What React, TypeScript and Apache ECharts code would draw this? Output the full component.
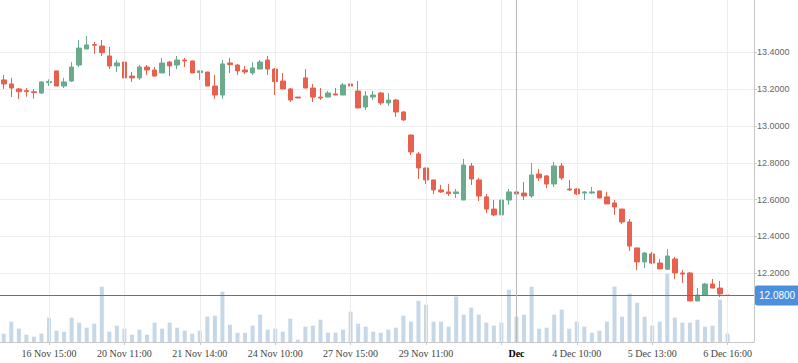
import React, { useEffect, useRef } from 'react';
import * as echarts from 'echarts';

// ---- data ----
const opens = [
  13.250, 13.228, 13.201, 13.192, 13.186, 13.179, 13.235, 13.299, 13.217, 13.244,
  13.331, 13.418, 13.442, 13.434, 13.380, 13.326, 13.347, 13.271, 13.261, 13.320,
  13.304, 13.288, 13.347, 13.331, 13.358, 13.353, 13.290, 13.293, 13.217, 13.168,
  13.342, 13.331, 13.304, 13.288, 13.309, 13.358, 13.309, 13.244, 13.201, 13.157,
  13.261, 13.206, 13.157, 13.157, 13.174, 13.168, 13.228, 13.190, 13.103, 13.157,
  13.179, 13.125, 13.141, 13.076, 12.951, 12.848, 12.772, 12.707, 12.653, 12.642,
  12.633, 12.598, 12.783, 12.707, 12.615, 12.549, 12.517, 12.598, 12.642, 12.636,
  12.620, 12.739, 12.729, 12.685, 12.783, 12.658, 12.658, 12.636, 12.636, 12.647,
  12.615, 12.582, 12.549, 12.479, 12.338, 12.262, 12.305, 12.256, 12.222, 12.278,
  12.202, 12.202, 12.050, 12.082, 12.142, 12.120, 12.082,
];
const closes = [
  13.228, 13.206, 13.186, 13.186, 13.181, 13.239, 13.241, 13.217, 13.239, 13.320,
  13.423, 13.440, 13.438, 13.398, 13.326, 13.342, 13.261, 13.261, 13.320, 13.304,
  13.271, 13.342, 13.326, 13.358, 13.353, 13.288, 13.299, 13.217, 13.168, 13.337,
  13.333, 13.299, 13.293, 13.315, 13.347, 13.309, 13.241, 13.201, 13.141, 13.152,
  13.206, 13.157, 13.152, 13.179, 13.168, 13.223, 13.217, 13.098, 13.163, 13.168,
  13.125, 13.141, 13.076, 13.033, 12.859, 12.772, 12.707, 12.653, 12.642, 12.633,
  12.642, 12.788, 12.712, 12.620, 12.549, 12.517, 12.598, 12.642, 12.631, 12.620,
  12.734, 12.718, 12.685, 12.783, 12.718, 12.653, 12.631, 12.642, 12.642, 12.609,
  12.577, 12.560, 12.479, 12.348, 12.262, 12.310, 12.256, 12.224, 12.294, 12.202,
  12.196, 12.050, 12.082, 12.142, 12.120, 12.088, 12.080,
];
const lows = [
  13.201, 13.157, 13.147, 13.159, 13.148, 13.174, 13.217, 13.216, 13.206, 13.239,
  13.320, 13.417, 13.391, 13.380, 13.309, 13.293, 13.239, 13.239, 13.250, 13.277,
  13.270, 13.287, 13.271, 13.309, 13.320, 13.287, 13.250, 13.216, 13.147, 13.147,
  13.288, 13.277, 13.282, 13.277, 13.308, 13.277, 13.168, 13.200, 13.130, 13.151,
  13.205, 13.130, 13.141, 13.156, 13.167, 13.167, 13.179, 13.097, 13.087, 13.141,
  13.114, 13.109, 13.049, 13.027, 12.843, 12.712, 12.685, 12.631, 12.636, 12.620,
  12.609, 12.597, 12.680, 12.593, 12.528, 12.511, 12.511, 12.571, 12.582, 12.598,
  12.609, 12.701, 12.663, 12.669, 12.707, 12.647, 12.625, 12.598, 12.631, 12.608,
  12.576, 12.517, 12.468, 12.321, 12.218, 12.229, 12.251, 12.223, 12.218, 12.169,
  12.148, 12.049, 12.049, 12.081, 12.119, 12.072, 12.079,
];
const highs = [
  13.277, 13.261, 13.206, 13.206, 13.201, 13.244, 13.253, 13.300, 13.261, 13.347,
  13.467, 13.489, 13.456, 13.467, 13.429, 13.358, 13.364, 13.293, 13.331, 13.331,
  13.320, 13.369, 13.353, 13.380, 13.369, 13.354, 13.300, 13.294, 13.277, 13.358,
  13.369, 13.337, 13.326, 13.347, 13.358, 13.380, 13.315, 13.288, 13.206, 13.158,
  13.309, 13.228, 13.206, 13.190, 13.206, 13.233, 13.229, 13.244, 13.190, 13.190,
  13.185, 13.179, 13.147, 13.081, 12.952, 12.859, 12.773, 12.708, 12.680, 12.685,
  12.658, 12.821, 12.799, 12.718, 12.631, 12.598, 12.599, 12.658, 12.701, 12.696,
  12.799, 12.767, 12.734, 12.805, 12.799, 12.707, 12.663, 12.647, 12.669, 12.648,
  12.642, 12.598, 12.550, 12.495, 12.339, 12.316, 12.316, 12.278, 12.332, 12.289,
  12.218, 12.207, 12.120, 12.148, 12.169, 12.158, 12.083,
];
const volumes = [
  2500, 6100, 4000, 2200, 1600, 2500, 7300, 3400, 3100, 7300,
  5800, 4300, 5500, 16600, 3100, 4900, 4000, 2200, 3700, 2200,
  5800, 4000, 5800, 4300, 3400, 2500, 3400, 7600, 7900, 15100,
  5200, 2800, 2800, 4900, 8200, 3700, 4000, 3100, 7000, 700,
  4600, 4900, 6700, 2800, 2800, 3700, 9100, 5500, 4600, 3100,
  2800, 3700, 4300, 7900, 6100, 12400, 11200, 6100, 6100, 4600,
  13600, 8200, 10300, 8200, 5800, 4900, 5800, 15700, 7600, 8200,
  16600, 4000, 4300, 8200, 9700, 4000, 6100, 4600, 2800, 3400,
  6100, 16600, 7600, 14500, 11800, 7600, 4900, 6100, 20500, 7300,
  5800, 5800, 6700, 4600, 4900, 12700, 2500,
];

// 97 candles + 3 empty slots on the right
const SLOT_COUNT = 100;
const categories = Array.from({ length: SLOT_COUNT }, (_, i) => String(i));
const tickIndices = [6, 16, 26, 36, 46, 56, 68, 76, 86, 96];
const tickLabels = [
  '16 Nov 15:00', '20 Nov 11:00', '21 Nov 14:00', '24 Nov 10:00', '27 Nov 15:00',
  '29 Nov 11:00', 'Dec', '4 Dec 10:00', '5 Dec 13:00', '6 Dec 16:00',
];
const boldTicks = ['Dec'];
const gridIndices = [6, 16, 26, 36, 46, 56, 66, 76, 86, 96];
const lastPrice = 12.08;
const crosshairIndex = 68;
const priceMin = 12.0281;
const priceMax = 13.5916;
const volumeMax = 102600;

const UP = '#6aab8e';
const DOWN = '#e8604e';
const FONT = 'Liberation Serif';
const SANS = 'Liberation Sans';

const candleData = opens.map((o, i) => [o, closes[i], lows[i], highs[i]]);

const option: any = {
  animation: false,
  backgroundColor: '#ffffff',
  textStyle: { fontFamily: FONT },
  grid: [
    { left: 0, right: 44, top: 17, height: 288 },
    { left: 0, right: 44, top: 0, bottom: 21 },
  ],
  xAxis: [
    { type: 'category', gridIndex: 0, data: categories, boundaryGap: true, show: false },
    {
      type: 'category',
      gridIndex: 1,
      data: categories,
      boundaryGap: true,
      axisLine: { show: true, lineStyle: { color: '#c8c8c8', width: 1 } },
      axisTick: {
        show: true,
        alignWithLabel: true,
        interval: (i: number) => gridIndices.includes(i),
        length: 3,
        lineStyle: { color: '#c8c8c8' },
      },
      axisLabel: {
        interval: (i: number) => tickIndices.includes(i),
        formatter: (v: string) => {
          const k = tickIndices.indexOf(Number(v));
          if (k < 0) return '';
          const t = tickLabels[k];
          return boldTicks.includes(t) ? `{b|${t}}` : t;
        },
        margin: 6,
        color: '#444444',
        fontFamily: FONT,
        fontSize: 10,
        rich: { b: { fontWeight: 'bold', color: '#000000', fontFamily: FONT, fontSize: 10 } },
      },
      splitLine: { show: false },
    },
  ],
  yAxis: [
    {
      type: 'value',
      gridIndex: 0,
      position: 'right',
      min: priceMin,
      max: priceMax,
      splitNumber: 8,
      axisLine: { show: false },
      axisTick: { show: true, length: 3, lineStyle: { color: '#c8c8c8' } },
      axisLabel: {
        margin: 3,
        color: '#666666',
        fontFamily: SANS,
        fontSize: 9,
        showMinLabel: false,
        showMaxLabel: false,
        formatter: (v: number) => v.toFixed(4),
      },
      splitLine: { show: true, showMinLine: false, showMaxLine: false, lineStyle: { color: '#eeeeee', width: 1 } },
    },
    {
      type: 'value',
      gridIndex: 1,
      position: 'right',
      min: 0,
      max: volumeMax,
      axisLine: { show: true, lineStyle: { color: '#c8c8c8', width: 1 } },
      axisTick: { show: false },
      axisLabel: { show: false },
      splitLine: { show: false },
    },
  ],
  series: [
    {
      type: 'line',
      xAxisIndex: 1,
      yAxisIndex: 1,
      data: [],
      z: 1,
      silent: true,
      markLine: {
        silent: true,
        symbol: 'none',
        label: { show: false },
        lineStyle: { color: '#ececec', width: 1, type: 'solid' },
        data: gridIndices.map((i) => ({ xAxis: categories[i] })),
      },
    },
    {
      type: 'bar',
      name: 'Volume',
      xAxisIndex: 1,
      yAxisIndex: 1,
      data: volumes,
      barWidth: 4,
      z: 2,
      itemStyle: { color: '#c6d7e8' },
    },
    {
      type: 'candlestick',
      name: 'Price',
      xAxisIndex: 0,
      yAxisIndex: 0,
      data: candleData,
      barWidth: 5,
      z: 3,
      itemStyle: {
        color: UP,
        color0: DOWN,
        borderColor: UP,
        borderColor0: DOWN,
        borderWidth: 1,
      },
      markLine: {
        silent: true,
        symbol: 'none',
        z: 5,
        lineStyle: { color: '#4a78b4', width: 1, type: 'solid' },
        label: {
          show: true,
          position: 'end',
          distance: 1,
          formatter: () => lastPrice.toFixed(4),
          backgroundColor: '#4a90dc',
          color: '#ffffff',
          fontFamily: SANS,
          fontSize: 10,
          padding: [5, 4, 5, 4],
          borderRadius: 2,
        },
        data: [{ yAxis: lastPrice }],
      },
    },
    {
      type: 'line',
      xAxisIndex: 1,
      yAxisIndex: 1,
      data: [],
      z: 4,
      silent: true,
      markLine: {
        silent: true,
        symbol: 'none',
        label: { show: false },
        lineStyle: { color: '#b8b8b8', width: 1, type: 'solid' },
        data: [{ xAxis: categories[crosshairIndex] }],
      },
    },
  ],
};

export default function App() {
  const ref = useRef<HTMLDivElement>(null);
  useEffect(() => {
    if (!ref.current) return;
    const chart = echarts.init(ref.current, null, { renderer: 'svg' });
    chart.setOption(option);
    return () => chart.dispose();
  }, []);
  return (
    <div
      ref={ref}
      style={{ position: 'fixed', left: 0, top: 0, width: 798, height: 363, background: '#ffffff' }}
    />
  );
}
